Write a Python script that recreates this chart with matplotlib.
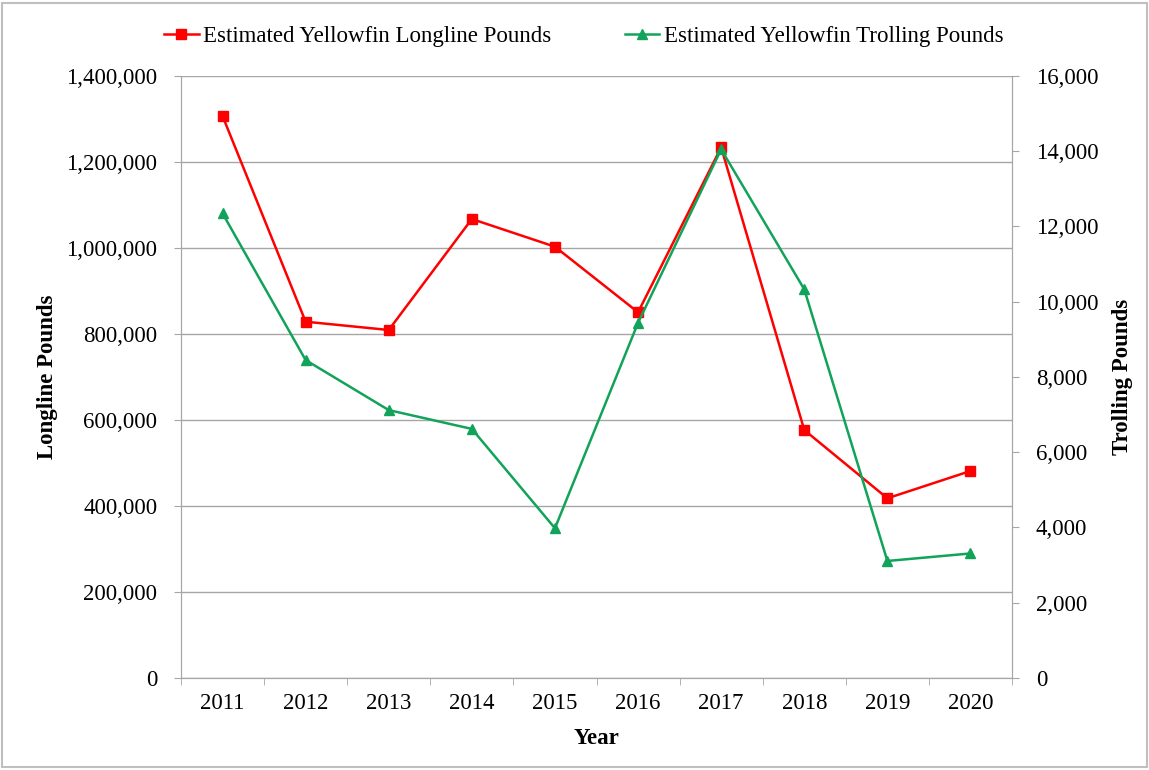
import matplotlib
matplotlib.use('Agg')
import matplotlib.pyplot as plt
from matplotlib.ticker import FuncFormatter, MultipleLocator
from matplotlib.patches import Rectangle

#---------------- datos ----------------
years = ['2011', '2012', '2013', '2014', '2015', '2016', '2017', '2018', '2019', '2020']
longline = [1307000, 828600, 809300, 1067400, 1003000, 850500, 1234000, 576700, 417900, 481400]
trolling = [12350, 8450, 7120, 6620, 3980, 9440, 14050, 10330, 3110, 3310]

red = '#FF0000'
green = '#12A35A'
gray = '#A6A6A6'
fs = 16.5

plt.rcParams['font.family'] = ['Liberation Serif', 'DejaVu Serif']

fig = plt.figure(figsize=(11.49, 7.7), dpi=100)
ax = fig.add_axes([0.1575, 0.1195, 0.7233, 0.7818])
ax2 = ax.twinx()

x = list(range(len(years)))
l1, = ax.plot(x, longline, '-s', color=red, lw=1.8, ms=7.5, label='Estimated Yellowfin Longline Pounds')
l2, = ax2.plot(x, trolling, '-^', color=green, lw=1.8, ms=6.5, label='Estimated Yellowfin Trolling Pounds')

ax.set_xlim(-0.5, len(years) - 0.5)
ax.set_ylim(0, 1400000)
ax2.set_ylim(0, 16000)
ax.yaxis.set_major_locator(MultipleLocator(200000))
ax2.yaxis.set_major_locator(MultipleLocator(2000))
fmt = FuncFormatter(lambda v, p: '{:,.0f}'.format(v))
ax.yaxis.set_major_formatter(fmt)
ax2.yaxis.set_major_formatter(fmt)

ax.set_xticks(x)
ax.set_xticklabels(years)
ax.set_xticks([i - 0.5 for i in range(len(years) + 1)], minor=True)
ax.tick_params(axis='x', which='major', length=0, pad=11, labelsize=fs)
ax.tick_params(axis='x', which='minor', length=5, color=gray)
ax.tick_params(axis='y', length=5, color=gray, labelsize=fs, pad=12)
ax2.tick_params(axis='y', length=5, color=gray, labelsize=fs, pad=12)

ax.grid(axis='y', color=gray, lw=1)
ax.set_axisbelow(True)
for a in (ax, ax2):
    a.spines['top'].set_visible(False)
    a.spines['left'].set_color(gray)
    a.spines['right'].set_color(gray)
    a.spines['bottom'].set_color(gray)

ax.set_xlabel('Year', fontsize=fs, fontweight='bold', labelpad=10)
ax.set_ylabel('Longline Pounds', fontsize=fs, fontweight='bold', labelpad=6)
ax2.set_ylabel('Trolling Pounds', fontsize=fs, fontweight='bold', labelpad=10)

fig.legend(handles=[l1, l2], loc='center', bbox_to_anchor=(0.508, 0.953), ncol=2,
           frameon=False, fontsize=fs, handlelength=1.5, handletextpad=0.2, columnspacing=3.2)

fig.patches.append(Rectangle((0.002, 0.004), 0.996, 0.992, transform=fig.transFigure,
                             fill=False, edgecolor='#BFBFBF', lw=1.5))

fig.savefig('out.png', dpi=100)
